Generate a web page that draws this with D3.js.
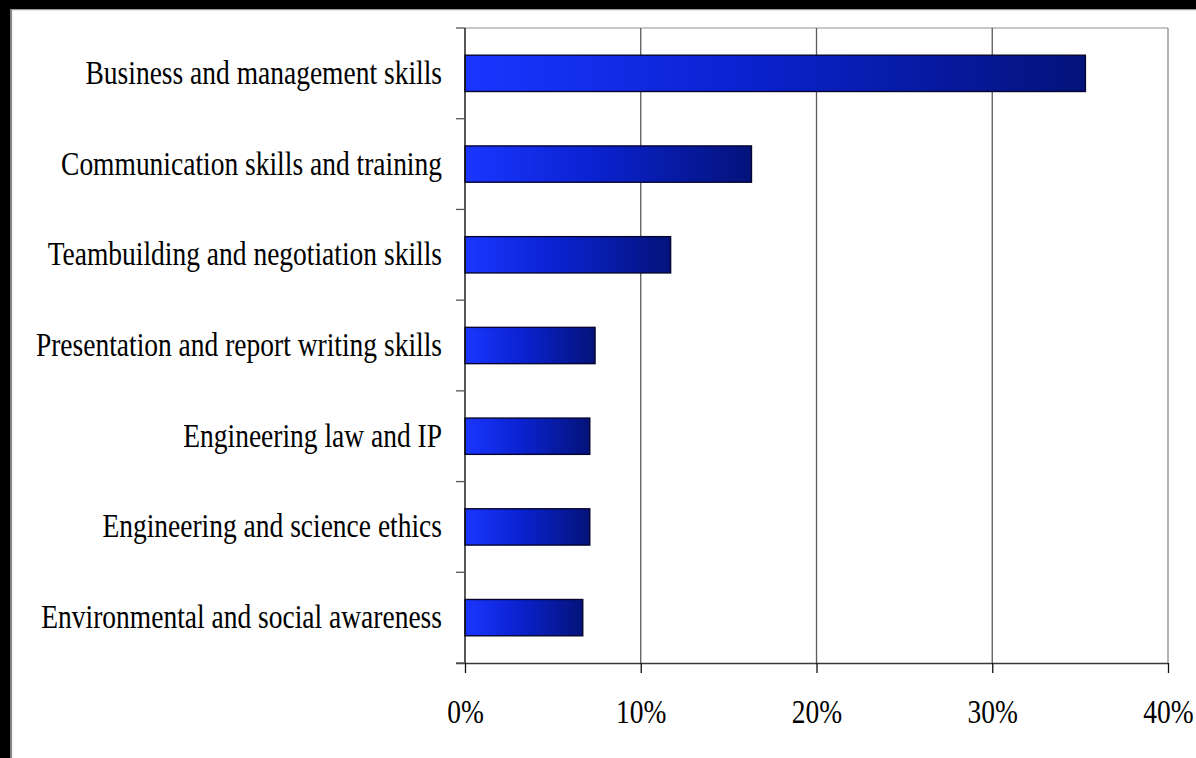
<!DOCTYPE html>
<html>
<head>
<meta charset="utf-8">
<script src="https://cdn.jsdelivr.net/npm/d3@7"></script>
<style>
  html, body { margin: 0; padding: 0; background: #fff; }
  svg { display: block; }
</style>
</head>
<body>
<svg id="chart" width="1196" height="758"></svg>
<script>
// Share of respondents naming each skill area
const categories = [
  "Business and management skills",
  "Communication skills and training",
  "Teambuilding and negotiation skills",
  "Presentation and report writing skills",
  "Engineering law and IP",
  "Engineering and science ethics",
  "Environmental and social awareness"
];
const values = [35.3, 16.3, 11.7, 7.4, 7.1, 7.1, 6.7];
const xTicks = [0, 10, 20, 30, 40];

const W = 1196, H = 758;
const plot = { left: 465, right: 1168, top: 28, bottom: 663 };
const FONT = "'Liberation Serif', 'Times New Roman', serif";
const TEXT_STRETCH = 1.2;

const svg = d3.select("#chart");

// page background and dark frame on top/left
svg.append("rect").attr("width", W).attr("height", H).attr("fill", "#fff");
svg.append("rect").attr("x", 0).attr("y", 0).attr("width", W).attr("height", 9).attr("fill", "#000");
svg.append("rect").attr("x", 0).attr("y", 0).attr("width", 10.5).attr("height", H).attr("fill", "#000");
svg.append("line").attr("x1", 11.5).attr("x2", 11.5).attr("y1", 9).attr("y2", H)
  .attr("stroke", "#8a8a8a").attr("stroke-width", 1.2);
svg.append("line").attr("x1", 11).attr("x2", W).attr("y1", 9.6).attr("y2", 9.6)
  .attr("stroke", "#9a9a9a").attr("stroke-width", 1.2);

const x = d3.scaleLinear().domain([0, 40]).range([plot.left, plot.right]);
const y = d3.scaleBand().domain(categories).range([plot.top, plot.bottom])
  .paddingInner(0.6).paddingOuter(0.3);

// bar fill: bright blue to navy across each bar
const defs = svg.append("defs");
const grad = defs.append("linearGradient").attr("id", "barGrad")
  .attr("x1", "0%").attr("x2", "100%").attr("y1", "0%").attr("y2", "0%");
grad.append("stop").attr("offset", "0%").attr("stop-color", "#1a36ff");
grad.append("stop").attr("offset", "45%").attr("stop-color", "#0a22d0");
grad.append("stop").attr("offset", "100%").attr("stop-color", "#04137a");

// plot frame: top and right edges
svg.append("line").attr("x1", plot.left).attr("x2", plot.right)
  .attr("y1", plot.top).attr("y2", plot.top)
  .attr("stroke", "#b4b4b4").attr("stroke-width", 1.3);

// vertical gridlines
svg.append("g").selectAll("line")
  .data(xTicks.filter(d => d > 0))
  .join("line")
  .attr("x1", d => x(d)).attr("x2", d => x(d))
  .attr("y1", plot.top).attr("y2", plot.bottom)
  .attr("stroke", d => d === 40 ? "#8c8c8c" : "#5a5a5a")
  .attr("stroke-width", 1.3);

// bars
svg.append("g").selectAll("rect")
  .data(categories)
  .join("rect")
  .attr("x", x(0))
  .attr("y", d => y(d))
  .attr("width", (d, i) => x(values[i]) - x(0))
  .attr("height", y.bandwidth())
  .attr("fill", "url(#barGrad)")
  .attr("stroke", "#050530")
  .attr("stroke-width", 1.4);

// x axis
const xAxis = svg.append("g")
  .attr("transform", `translate(0,${plot.bottom})`)
  .call(d3.axisBottom(x).tickValues(xTicks).tickFormat(d => d + "%")
    .tickSizeInner(10).tickSizeOuter(0).tickPadding(0));
xAxis.select(".domain").attr("stroke", "#3a3a3a").attr("stroke-width", 1.5)
  .attr("d", `M${plot.left - 9},0.5H${plot.right}`);
xAxis.selectAll(".tick line").attr("stroke", "#111").attr("stroke-width", 1.3);
xAxis.selectAll(".tick text").remove();
xAxis.selectAll(".tick").append("text")
  .attr("transform", `translate(0,60) scale(1,${TEXT_STRETCH})`)
  .attr("text-anchor", "middle")
  .attr("font-family", FONT).attr("font-size", 27.5).attr("fill", "#000")
  .text(d => d + "%");

// y axis line and category boundary ticks
const step = y.step();
const bounds = d3.range(categories.length + 1).map(i => plot.top + i * step);
svg.append("line").attr("x1", plot.left).attr("x2", plot.left)
  .attr("y1", plot.top).attr("y2", plot.bottom)
  .attr("stroke", "#111").attr("stroke-width", 1.4);
svg.append("g").selectAll("line")
  .data(bounds)
  .join("line")
  .attr("x1", plot.left - 9).attr("x2", plot.left)
  .attr("y1", d => d).attr("y2", d => d)
  .attr("stroke", "#555").attr("stroke-width", 1.3);

// category labels
svg.append("g").selectAll("text")
  .data(categories)
  .join("text")
  .attr("transform", d => `translate(${plot.left - 23},${y(d) + y.bandwidth() / 2 + 10.5}) scale(1,${TEXT_STRETCH})`)
  .attr("text-anchor", "end")
  .attr("font-family", FONT).attr("font-size", 27.5).attr("fill", "#000")
  .text(d => d);
</script>
</body>
</html>
